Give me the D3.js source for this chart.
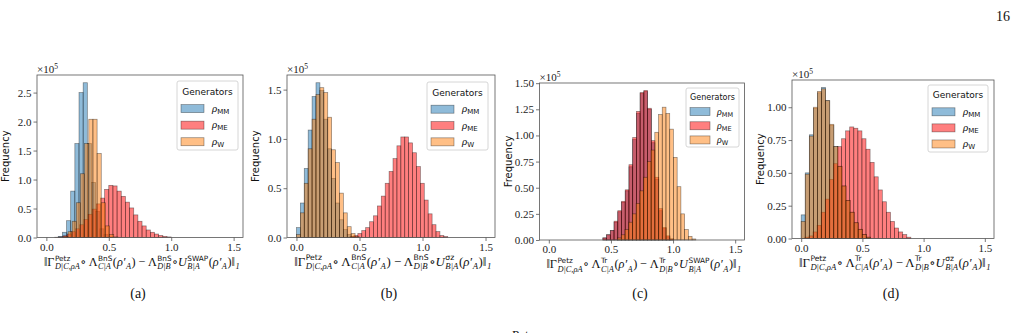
<!DOCTYPE html>
<html>
<head>
<meta charset="utf-8">
<script src="https://cdn.jsdelivr.net/npm/d3@7"></script>
<style>
  html, body { margin: 0; padding: 0; background: #fff; }
  svg { display: block; }
</style>
</head>
<body>
<svg id="fig" width="1014" height="333"></svg>
<script>
// histogram counts in units of 1e5, one value per bin
const seriesNames = ["MM", "ME", "W"];
const xTicks = [0, 0.5, 1.0, 1.5];

// (a)
const aBin = 0.0333;
const aStarts = [0.095, 0.067, 0.14];
const aMM = [0.02, 0.09, 0.29, 0.80, 1.62, 2.50, 2.67, 1.62, 0.95, 0.45, 0.15, 0.05, 0.01];
const aME = [0.005, 0.01, 0.03, 0.06, 0.10, 0.15, 0.22, 0.31, 0.40, 0.49, 0.58, 0.68, 0.83, 0.90, 0.89, 0.80, 0.71, 0.61, 0.51, 0.39, 0.28, 0.20, 0.13, 0.09, 0.06, 0.035, 0.02, 0.01];
const aW = [0.02, 0.10, 0.28, 0.60, 1.10, 1.62, 2.04, 2.04, 1.45, 0.60, 0.20, 0.05, 0.01];
const aYTicks = [0, 0.5, 1.0, 1.5, 2.0, 2.5];

// (b)
const bBin = 0.031;
const bStarts = [0.0, 0.425, 0.0];
const bMM = [0.10, 0.35, 0.70, 1.09, 1.43, 1.57, 1.49, 1.20, 0.90, 0.60, 0.35, 0.18, 0.08, 0.03, 0.01];
const bME = [0.01, 0.02, 0.04, 0.07, 0.10, 0.16, 0.22, 0.32, 0.42, 0.55, 0.67, 0.80, 0.93, 1.02, 1.02, 0.96, 0.86, 0.72, 0.55, 0.38, 0.24, 0.13, 0.06, 0.02, 0.01];
const bW = [0.03, 0.25, 0.55, 0.90, 1.20, 1.45, 1.52, 1.47, 1.22, 0.89, 0.76, 0.45, 0.25, 0.11, 0.04, 0.01];
const bYTicks = [0, 0.5, 1.0, 1.5];

// (c)
const cBin = 0.030;
const cStarts = [0.435, 0.435, 0.553];
const cMM = [0.02, 0.05, 0.09, 0.17, 0.27, 0.36, 0.47, 0.70, 0.96, 1.21, 1.40, 1.42, 1.25, 0.93, 0.58, 0.28, 0.11, 0.03, 0.01];
const cME = [0.02, 0.05, 0.09, 0.18, 0.28, 0.37, 0.48, 0.72, 0.98, 1.23, 1.41, 1.43, 1.26, 0.95, 0.60, 0.30, 0.12, 0.04, 0.01];
const cW = [0.02, 0.05, 0.10, 0.17, 0.25, 0.35, 0.47, 0.60, 0.75, 0.86, 1.03, 1.20, 1.27, 1.21, 1.06, 0.79, 0.51, 0.25, 0.10, 0.035, 0.01];
const cYTicks = [0, 0.25, 0.5, 0.75, 1.0, 1.25, 1.5];

// (d)
const dBin = 0.0333;
const dStarts = [0.0, 0.03, 0.0];
const dMM = [0.18, 0.50, 0.79, 0.99, 1.11, 1.15, 1.05, 0.86, 0.70, 0.55, 0.40, 0.29, 0.20, 0.12, 0.07, 0.03, 0.01];
const dME = [0.01, 0.02, 0.05, 0.10, 0.20, 0.30, 0.45, 0.57, 0.70, 0.76, 0.82, 0.85, 0.84, 0.82, 0.76, 0.68, 0.58, 0.47, 0.37, 0.28, 0.20, 0.13, 0.08, 0.05, 0.03, 0.01];
const dW = [0.13, 0.49, 0.78, 1.00, 1.12, 1.14, 1.05, 0.87, 0.70, 0.55, 0.40, 0.29, 0.20, 0.12, 0.07, 0.03, 0.01];
const dYTicks = [0, 0.25, 0.5, 0.75, 1.0];

const captions = ["(a)", "(b)", "(c)", "(d)"];

const colors = {
  MM: "rgba(31,119,180,0.5)",
  ME: "rgba(255,0,0,0.5)",
  W: "rgba(255,127,14,0.5)"
};

const panels = [
  { l: 37, r: 243, t: 75, b: 237.5, bin: aBin, starts: aStarts, data: [aMM, aME, aW], yTicks: aYTicks, dec: 1, chan: "BnS", unit: "SWAP", leg: { x: 177, y: 81, w: 61, h: 69 } },
  { l: 287, r: 495, t: 75, b: 237.5, bin: bBin, starts: bStarts, data: [bMM, bME, bW], yTicks: bYTicks, dec: 1, chan: "BnS", unit: "σz", leg: { x: 427, y: 82, w: 61, h: 68 } },
  { l: 539.5, r: 744.5, t: 83, b: 240, bin: cBin, starts: cStarts, data: [cMM, cME, cW], yTicks: cYTicks, dec: 2, chan: "Tr", unit: "SWAP", leg: { x: 686, y: 88, w: 53, h: 59 } },
  { l: 792, r: 994, t: 80, b: 238.5, bin: dBin, starts: dStarts, data: [dMM, dME, dW], yTicks: dYTicks, dec: 2, chan: "Tr", unit: "σz", leg: { x: 928, y: 85, w: 60, h: 67 } }
];

const svg = d3.select("#fig");
const serif = "'Liberation Serif', 'DejaVu Serif', serif";
const sans = "'DejaVu Sans', sans-serif";
const axisGray = "#555";

// math-ish label built from pieces; each piece is base text with optional sup/sub
function mathLabel(g, pieces, size) {
  let x = 0;
  for (const p of pieces) {
    if (p.b) {
      const t = g.append("text").attr("x", x).attr("y", 0)
        .attr("font-family", serif)
        .attr("font-style", p.it ? "italic" : "normal")
        .attr("font-size", size).text(p.b);
      x += t.node().getComputedTextLength();
    }
    let w = 0;
    if (p.sup) {
      const t = g.append("text").attr("x", x + 0.5).attr("y", -size * 0.4)
        .attr("font-family", sans).attr("font-size", size * 0.6).text(p.sup);
      w = Math.max(w, t.node().getComputedTextLength() + 1);
    }
    if (p.sub) {
      const t = g.append("text").attr("x", x + 0.5).attr("y", size * 0.3)
        .attr("font-family", serif).attr("font-style", "italic")
        .attr("font-size", size * 0.68).text(p.sub);
      w = Math.max(w, t.node().getComputedTextLength() + 1);
    }
    x += w;
  }
  return x;
}

panels.forEach((P, pi) => {
  const g = svg.append("g");
  const x = d3.scaleLinear().domain([-0.075, 1.575]).range([P.l, P.r]);
  const yMax = d3.max(P.data, (s) => d3.max(s)) * 1.05;
  const y = d3.scaleLinear().domain([0, yMax]).range([P.b, P.t]);

  // bars, drawn in legend order
  P.data.forEach((counts, si) => {
    const bins = counts.map((v, i) => ({ x0: P.starts[si] + i * P.bin, v }));
    g.append("g").selectAll("rect").data(bins).join("rect")
      .attr("x", (d) => x(d.x0))
      .attr("width", (d) => x(d.x0 + P.bin) - x(d.x0))
      .attr("y", (d) => y(d.v))
      .attr("height", (d) => y(0) - y(d.v))
      .attr("fill", colors[seriesNames[si]])
      .attr("stroke", "rgba(0,0,0,0.45)")
      .attr("stroke-width", 0.7);
  });

  // frame
  g.append("rect").attr("x", P.l).attr("y", P.t)
    .attr("width", P.r - P.l).attr("height", P.b - P.t)
    .attr("fill", "none").attr("stroke", axisGray).attr("stroke-width", 0.8);

  const xAxis = g.append("g").attr("transform", `translate(0,${P.b})`)
    .call(d3.axisBottom(x).tickValues(xTicks).tickFormat(d3.format(".1f")).tickSize(3.5).tickPadding(2));
  const yAxis = g.append("g").attr("transform", `translate(${P.l},0)`)
    .call(d3.axisLeft(y).tickValues(P.yTicks).tickFormat(d3.format(`.${P.dec}f`)).tickSize(3.5).tickPadding(2));
  for (const ax of [xAxis, yAxis]) {
    ax.select(".domain").remove();
    ax.selectAll("line").attr("stroke", axisGray).attr("stroke-width", 0.8);
    ax.selectAll("text").attr("font-family", serif).attr("font-size", 11).attr("fill", "#222");
  }

  // offset text
  const off = g.append("text").attr("x", P.l).attr("y", P.t - 2)
    .attr("font-family", serif).attr("font-size", 11).attr("fill", "#222");
  off.append("tspan").text("×10");
  off.append("tspan").attr("font-size", 7.5).attr("dy", -4).text("5");

  // y label
  const ly = (P.t + P.b) / 2;
  g.append("text").attr("transform", `translate(${P.l - 28},${ly}) rotate(-90)`)
    .attr("text-anchor", "middle").attr("font-family", sans).attr("font-size", 10)
    .attr("fill", "#111").text("Frequency");

  // legend
  const L = P.leg;
  const lg = g.append("g");
  lg.append("rect").attr("x", L.x).attr("y", L.y).attr("width", L.w).attr("height", L.h)
    .attr("rx", 2).attr("fill", "rgba(255,255,255,0.8)").attr("stroke", "#ccc").attr("stroke-width", 0.8);
  const small = L.h < 62;
  lg.append("text").attr("x", L.x + L.w / 2).attr("y", L.y + L.h * 0.2)
    .attr("text-anchor", "middle").attr("font-family", sans)
    .attr("font-size", small ? 8 : 9).attr("fill", "#111").text("Generators");
  const subs = ["MM", "ME", "W"];
  subs.forEach((s, i) => {
    const ry = L.y + L.h * (0.4 + i * 0.24);
    lg.append("rect").attr("x", L.x + 4).attr("y", ry - 4)
      .attr("width", small ? 20 : 23).attr("height", 8)
      .attr("fill", colors[s]).attr("stroke", "rgba(0,0,0,0.45)").attr("stroke-width", 0.7);
    const t = lg.append("text").attr("x", L.x + (small ? 31 : 35)).attr("y", ry + 3)
      .attr("font-family", serif).attr("font-size", small ? 10 : 11).attr("fill", "#111");
    t.append("tspan").attr("font-style", "italic").text("ρ");
    t.append("tspan").attr("font-family", sans).attr("font-size", small ? 6.5 : 7).attr("dy", 2).text(s);
  });

  // x label formula, sized to the reference width
  const pieces = [
    { b: "‖Γ" }, { sup: "Petz", sub: "D|C,ρA" },
    { b: " ∘ Λ" }, { sup: P.chan, sub: "C|A" },
    { b: "(" }, { b: "ρ′", it: true }, { sub: "A" },
    { b: ") − Λ" }, { sup: P.chan, sub: "D|B" },
    { b: " ∘ " }, { b: "U", it: true }, { sup: P.unit, sub: "B|A" },
    { b: "(" }, { b: "ρ′", it: true }, { sub: "A" },
    { b: ")‖" }, { sub: "1" }
  ];
  const probe = g.append("g");
  const w0 = mathLabel(probe, pieces, 10);
  probe.remove();
  const fs = 10 * (P.r - P.l - 8) / w0;
  const fx = g.append("g");
  const fw = mathLabel(fx, pieces, fs);
  fx.attr("transform", `translate(${(P.l + P.r) / 2 + 2 - fw / 2},${P.b + 28})`);
  fx.selectAll("text").attr("fill", "#111");

  // caption
  g.append("text").attr("x", (P.l + P.r) / 2 - 2).attr("y", 298)
    .attr("text-anchor", "middle").attr("font-family", serif).attr("font-size", 14)
    .attr("fill", "#111").text(captions[pi]);
});

// page number and next-line fragment
svg.append("text").attr("x", 1010).attr("y", 21).attr("text-anchor", "end")
  .attr("font-family", serif).attr("font-size", 14).attr("fill", "#111").text("16");
svg.append("text").attr("x", 512).attr("y", 339)
  .attr("font-family", serif).attr("font-size", 13).attr("fill", "#111").text("Petz");
</script>
</body>
</html>
